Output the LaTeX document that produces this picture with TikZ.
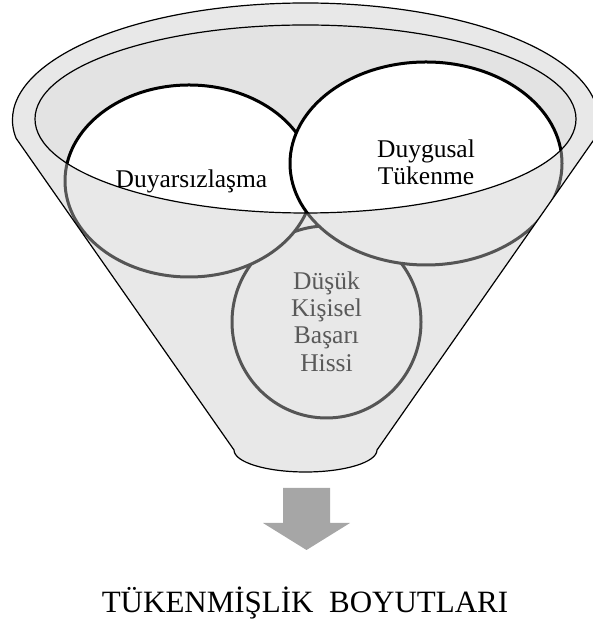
\documentclass[tikz,border=0pt]{standalone}
\usepackage{fontspec}
\setmainfont{Liberation Serif}
\definecolor{bodyfill}{HTML}{E8E8E8}
\definecolor{innerfill}{HTML}{E3E3E3}
\definecolor{darkline}{HTML}{555555}
\definecolor{graytext}{HTML}{595959}
\definecolor{arrowgray}{HTML}{A6A6A6}
\tikzset{
  funnelline/.style={draw=black, line width=1.2pt},
  backring/.style={fill=bodyfill, draw=darkline, line width=3pt},
  frontring/.style={fill=white, draw=black, line width=3pt},
  circtext/.style={font=\fontsize{25.5}{27}\selectfont, anchor=base, inner sep=0pt},
  titletext/.style={font=\fontsize{31}{34}\selectfont, anchor=base, inner sep=0pt},
}
\begin{document}
\begin{tikzpicture}[x=1pt,y=1pt]
\useasboundingbox (0,0) rectangle (593,628);
% funnel body
\def\funnelpath{(16.1,489.7) arc[start angle=189, end angle=-9, x radius=293pt, y radius=117pt] -- (377,178) arc[start angle=0, end angle=-180, x radius=71.5pt, y radius=22pt] -- cycle}
\fill[bodyfill] \funnelpath;
% back (gray) parts of the rings
\begin{scope}
  \clip \funnelpath;
  \draw[backring] (326.5,306) ellipse[x radius=94.5pt, y radius=96pt];
  \draw[backring] (189,447) ellipse[x radius=124pt, y radius=96pt];
  \draw[backring] (426,464.5) ellipse[x radius=136pt, y radius=101.5pt];
\end{scope}
% inner opening
\begin{scope}
  \clip (305.5,509) ellipse[x radius=270.5pt, y radius=94pt];
  \fill[innerfill] (305.5,509) ellipse[x radius=270.5pt, y radius=94pt];
  \draw[frontring] (189,447) ellipse[x radius=124pt, y radius=96pt];
  \draw[frontring] (426,464.5) ellipse[x radius=136pt, y radius=101.5pt];
\end{scope}
\draw[funnelline] (305.5,509) ellipse[x radius=270.5pt, y radius=94pt];
\draw[funnelline] \funnelpath;
% texts
\node[circtext] (duy) at (191.5,440) {Duyarsızlaşma};
\node[circtext] (dt1) at (426,470) {Duygusal};
\node[circtext] (dt2) at (426,443) {Tükenme};
\node[circtext, text=graytext] (ds1) at (326.5,338) {Düşük};
\node[circtext, text=graytext] (ds2) at (326.5,311) {Kişisel};
\node[circtext, text=graytext] (ds3) at (326.5,284) {Başarı};
\node[circtext, text=graytext] (ds4) at (326.5,256) {Hissi};
% arrow
\fill[arrowgray] (283,140) -- (330,140) -- (330,105) -- (350,105) -- (306.5,78) -- (263,105) -- (283,105) -- cycle;
% title
\node[titletext] (title) at (305,16) {TÜKENMİŞLİK\hspace{0.5em}BOYUTLARI};
\end{tikzpicture}
\end{document}
